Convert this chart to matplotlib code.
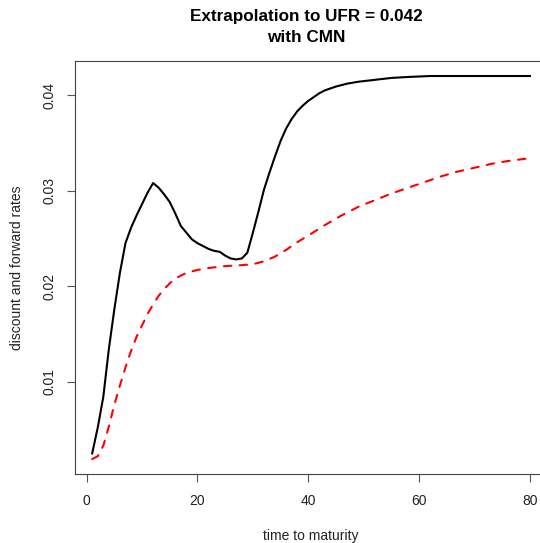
import matplotlib
matplotlib.use("Agg")
import matplotlib.pyplot as plt

plt.rcParams['font.family'] = ['Liberation Sans', 'DejaVu Sans']

# forward rates (solid black)
fwd_maturity = [1, 2, 3, 4, 5, 6, 7, 8, 9, 10, 11, 12, 13, 14, 15, 16, 17, 18, 19, 20,
                21, 22, 23, 24, 25, 26, 27, 28, 29, 30, 31, 32, 33, 34, 35, 36, 37, 38,
                39, 40, 41, 42, 43, 44, 45, 47, 49, 52, 55, 58, 62, 70, 80]
fwd_rate = [0.0025, 0.0052, 0.0084, 0.0134, 0.0176, 0.0214, 0.0245, 0.0261, 0.0274, 0.0286,
            0.0298, 0.0308, 0.0303, 0.0296, 0.0288, 0.0276, 0.0263, 0.0256, 0.0249, 0.0245,
            0.0242, 0.0239, 0.0237, 0.0236, 0.0232, 0.0229, 0.0228, 0.0229, 0.0235, 0.0256,
            0.0278, 0.0301, 0.0319, 0.0336, 0.0352, 0.0365, 0.0375, 0.0383, 0.0389, 0.0394,
            0.0398, 0.0402, 0.0405, 0.0407, 0.0409, 0.0412, 0.0414, 0.0416, 0.0418, 0.0419,
            0.0420, 0.0420, 0.0420]

# discount (spot) rates (dashed red)
spot_maturity = [1, 2, 3, 4, 5, 6, 7, 8, 9, 10, 11, 12, 13, 14, 15, 16, 17, 18, 20, 22,
                 25, 28, 30, 32, 34, 36, 38, 40, 43, 46, 49, 52, 55, 58, 61, 64, 67, 70,
                 73, 76, 80]
spot_rate = [0.0019, 0.0022, 0.0033, 0.0053, 0.0076, 0.0096, 0.0115, 0.0132, 0.0147, 0.0159,
             0.0171, 0.0181, 0.0190, 0.0197, 0.0203, 0.0208, 0.0211, 0.0214, 0.0217, 0.0219,
             0.0221, 0.0222, 0.0223, 0.0226, 0.0231, 0.0238, 0.0246, 0.0253, 0.0264, 0.0274,
             0.0283, 0.0290, 0.0297, 0.0303, 0.0309, 0.0315, 0.0320, 0.0324, 0.0328, 0.0331,
             0.0334]

x_ticks = [0, 20, 40, 60, 80]
y_ticks = [0.01, 0.02, 0.03, 0.04]

fig = plt.figure(figsize=(5.4, 5.43), dpi=100)
W, H = 540, 543
left, right, top, bottom = 74.7, 547.4, 60.7, 474.4
ax = fig.add_axes([left / W, 1 - bottom / H, (right - left) / W, (bottom - top) / H])

ax.plot(fwd_maturity, fwd_rate, color='black', lw=1.5)
ax.plot(spot_maturity, spot_rate, color='#ff0000', lw=1.5,
        dashes=(3.6, 4.0), dash_capstyle='round')

ax.margins(x=0.04, y=0.04)
ax.set_xticks(x_ticks)
ax.set_xticklabels([str(t) for t in x_ticks])
ax.set_yticks(y_ticks)
ax.set_yticklabels([f"{t:.2f}" for t in y_ticks], rotation=90, va='center')

for s in ax.spines.values():
    s.set_color('#444444')
    s.set_linewidth(0.8)
ax.spines['right'].set_visible(False)
ax.tick_params(direction='out', length=6, width=0.8, color='#555555',
               labelsize=10, labelcolor='#222222')
ax.tick_params(axis='x', pad=8)
ax.tick_params(axis='y', pad=7)

ax.set_xlabel('time to maturity', fontsize=10, color='#222222', va='center')
ax.xaxis.set_label_coords(0.5, (bottom - 536) / (bottom - top))
ax.set_ylabel('discount and forward rates', fontsize=10, color='#222222', va='center')
ax.yaxis.set_label_coords((17 - left) / (right - left), 0.5)

fig.text(306 / W, 1 - 17 / H, 'Extrapolation to UFR = 0.042', ha='center', va='center',
         fontsize=12.3, fontweight='bold')
fig.text(306 / W, 1 - 37 / H, 'with CMN', ha='center', va='center',
         fontsize=12.3, fontweight='bold')

fig.savefig('out.png', dpi=100)
